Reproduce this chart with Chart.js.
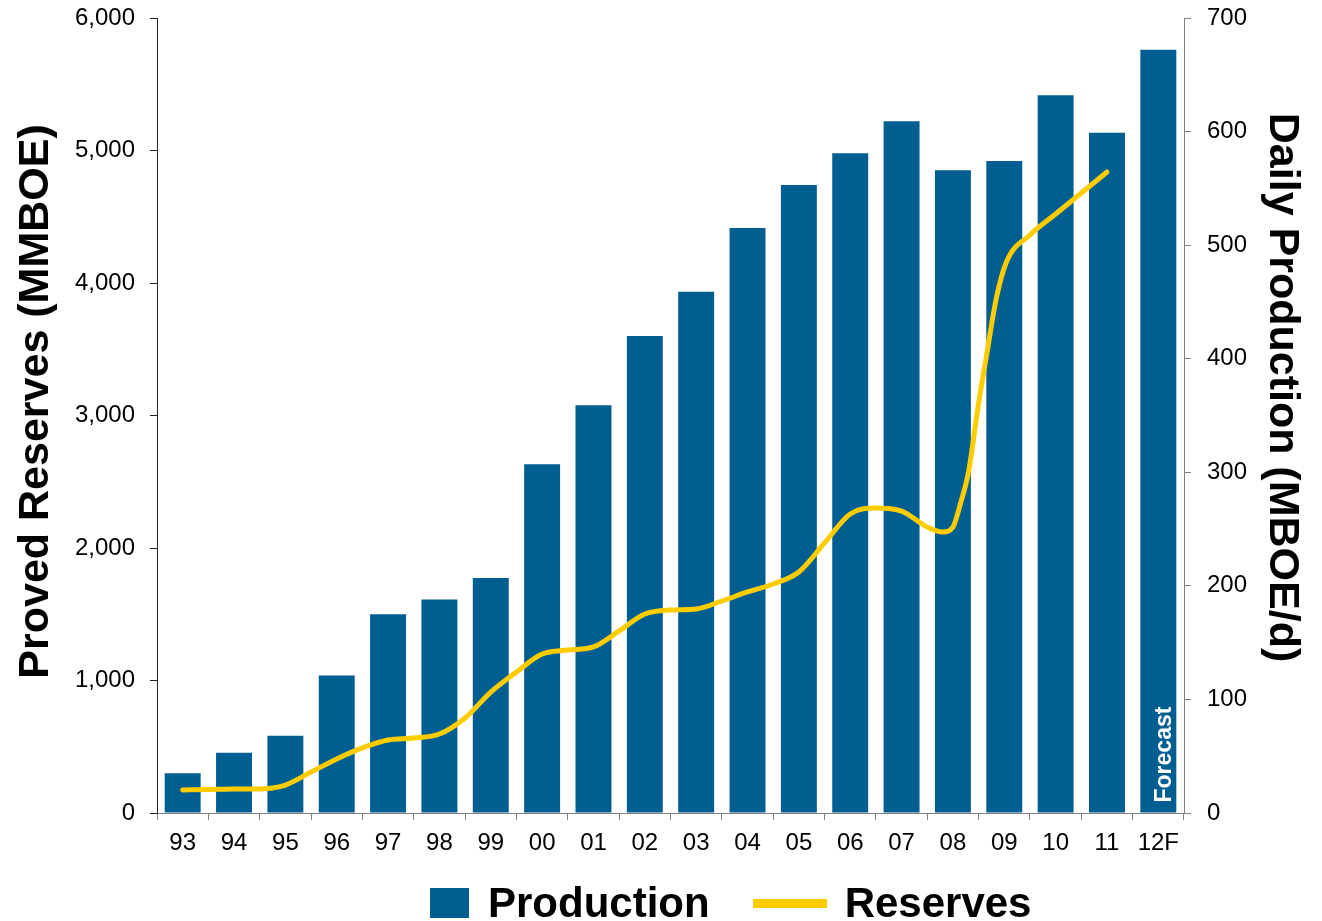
<!DOCTYPE html>
<html>
<head>
<meta charset="utf-8">
<title>Proved Reserves and Daily Production</title>
<script src="https://cdn.jsdelivr.net/npm/chart.js@4.4.1/dist/chart.umd.min.js"></script>
<style>
    html, body { margin: 0; padding: 0; background: #fff; }
    #wrap { position: relative; width: 1322px; height: 921px; overflow: hidden; }
    #legend {
        position: absolute; left: 430px; top: 882px;
        display: flex; align-items: center; white-space: nowrap;
        font: bold 42px 'Liberation Sans', Arial, sans-serif; line-height: 42px; color: #000;
    }
    .sw-box { width: 39px; height: 30px; margin-right: 19px; }
    .sw-line { width: 74px; height: 9px; margin-right: 18px; }
    .gap { width: 43px; }
</style>
</head>
<body>
<div id="wrap">
    <canvas id="reserveChart"></canvas>
    <div id="legend"></div>
</div>
<script>
// categories (years)
var years = ['93', '94', '95', '96', '97', '98', '99', '00', '01', '02', '03', '04', '05', '06', '07', '08', '09', '10', '11', '12F'];

// daily production, MBOE/d (right axis)
var production = [35, 53, 68, 121, 175, 188, 207, 307, 359, 420, 459, 515, 553, 581, 609, 566, 574, 632, 599, 672];

// proved reserves, MMBOE (left axis) - position counted in years from '93
var reservePos = [0, 0.5, 1, 1.5, 1.75, 2, 2.5, 3, 3.5, 4, 4.5, 5, 5.5, 6, 6.5, 7, 7.5, 8, 8.5, 9, 9.5, 10,
    10.5, 11, 11.5, 12, 12.5, 13, 13.5, 14, 14.5, 14.8, 15, 15.15, 15.3, 15.5, 15.65, 15.85, 16.05, 16.5, 17, 17.5, 18];
var reserves = [174, 177, 181, 181, 189, 211, 309, 408, 491, 551, 566, 596, 717, 913, 1064, 1200, 1230, 1253, 1374, 1502, 1532, 1540,
    1600, 1668, 1728, 1819, 2038, 2257, 2302, 2279, 2158, 2121, 2158, 2340, 2566, 3094, 3442, 3894, 4166, 4362, 4521, 4679, 4838];

var leftTitle = 'Proved Reserves (MMBOE)';
var rightTitle = 'Daily Production (MBOE/d)';
var forecastText = 'Forecast';

var FONT = "'Liberation Sans', Arial, sans-serif";
Chart.defaults.font.family = FONT;
Chart.defaults.color = '#000';

// axis titles (sit a bit above the middle in the original) and the "Forecast" note
var chartText = {
    id: 'chartText',
    afterDatasetsDraw: function (chart) {
        var c = chart.ctx;
        var area = chart.chartArea;
        var mid = (area.top + area.bottom) / 2;

        c.save();
        c.fillStyle = '#000';
        c.font = 'bold 43px ' + FONT;
        c.textAlign = 'center';
        c.textBaseline = 'middle';
        c.translate(chart.scales.y.left + 36, mid - 14);
        c.rotate(-Math.PI / 2);
        c.fillText(leftTitle, 0, 0);
        c.restore();

        c.save();
        c.fillStyle = '#000';
        c.font = 'bold 43px ' + FONT;
        c.textAlign = 'center';
        c.textBaseline = 'middle';
        c.translate(chart.scales.y1.right - 40, mid - 28);
        c.rotate(Math.PI / 2);
        c.fillText(rightTitle, 0, 0);
        c.restore();

        var bar = chart.getDatasetMeta(0).data[years.length - 1];
        if (!bar) return;
        c.save();
        c.translate(bar.x + 13, bar.base - 10);
        c.rotate(-Math.PI / 2);
        c.fillStyle = '#fff';
        c.font = 'bold 23px ' + FONT;
        c.textAlign = 'left';
        c.textBaseline = 'alphabetic';
        c.fillText(forecastText, 0, 0);
        c.restore();
    }
};

// fixed axis box sizes so the plot area sits where the original one does
function fixWidth(w) {
    return function (s) {
        s.width = w;
        s.paddingTop = 0;
        s.paddingBottom = 0;
    };
}

var ctx = document.getElementById('reserveChart').getContext('2d');
var reserveChart = new Chart(ctx, {
    type: 'bar',
    data: {
        datasets: [{
            label: 'Production',
            data: production.map(function (v, i) { return { x: i, y: v }; }),
            backgroundColor: '#005e91',
            yAxisID: 'y1',
            grouped: false,
            barPercentage: 0.7,
            categoryPercentage: 1,
            order: 2
        },
        {
            type: 'line',
            label: 'Reserves',
            data: reservePos.map(function (p, i) { return { x: p, y: reserves[i] }; }),
            borderColor: '#ffcc00',
            backgroundColor: '#ffcc00',
            borderWidth: 5,
            pointRadius: 0,
            cubicInterpolationMode: 'monotone',
            borderCapStyle: 'round',
            borderJoinStyle: 'round',
            yAxisID: 'y',
            order: 1
        }]
    },
    options: {
        responsive: true,
        maintainAspectRatio: false,
        animation: false,
        layout: { padding: { top: 18, left: 0, right: 0, bottom: 0 } },
        plugins: {
            legend: { display: false },
            tooltip: { enabled: false }
        },
        scales: {
            x: {
                type: 'linear',
                position: 'bottom',
                min: -0.5,
                max: 19.5,
                offset: false,
                afterBuildTicks: function (s) {
                    s.ticks = years.map(function (_, i) { return { value: i }; });
                },
                grid: { drawOnChartArea: false, tickLength: 7, color: '#808080', offset: true },
                border: { color: '#808080' },
                ticks: {
                    font: { size: 24 }, padding: 9, maxRotation: 0, autoSkip: false,
                    callback: function (v) { return years[v]; }
                },
                afterFit: function (s) { s.height = 108; }
            },
            y: {
                position: 'left',
                min: 0,
                max: 6000,
                ticks: {
                    stepSize: 1000,
                    font: { size: 24 },
                    padding: 15,
                    callback: function (v) { return v.toLocaleString('en-US'); }
                },
                grid: { drawOnChartArea: false, tickLength: 7, color: '#222' },
                border: { color: '#222' },
                afterFit: fixWidth(157)
            },
            y1: {
                position: 'right',
                min: 0,
                max: 700,
                ticks: { stepSize: 100, font: { size: 24 }, padding: 16 },
                grid: { drawOnChartArea: false, tickLength: 7, color: '#808080' },
                border: { color: '#808080' },
                afterFit: fixWidth(138)
            }
        }
    },
    plugins: [chartText]
});

// legend built from the datasets
var legendEl = document.getElementById('legend');
reserveChart.data.datasets.forEach(function (ds, i) {
    if (i > 0) {
        var gap = document.createElement('span');
        gap.className = 'gap';
        legendEl.appendChild(gap);
    }
    var sw = document.createElement('span');
    sw.className = ds.type === 'line' ? 'sw-line' : 'sw-box';
    sw.style.background = ds.type === 'line' ? ds.borderColor : ds.backgroundColor;
    legendEl.appendChild(sw);
    var txt = document.createElement('span');
    txt.textContent = ds.label;
    legendEl.appendChild(txt);
});
</script>
</body>
</html>
